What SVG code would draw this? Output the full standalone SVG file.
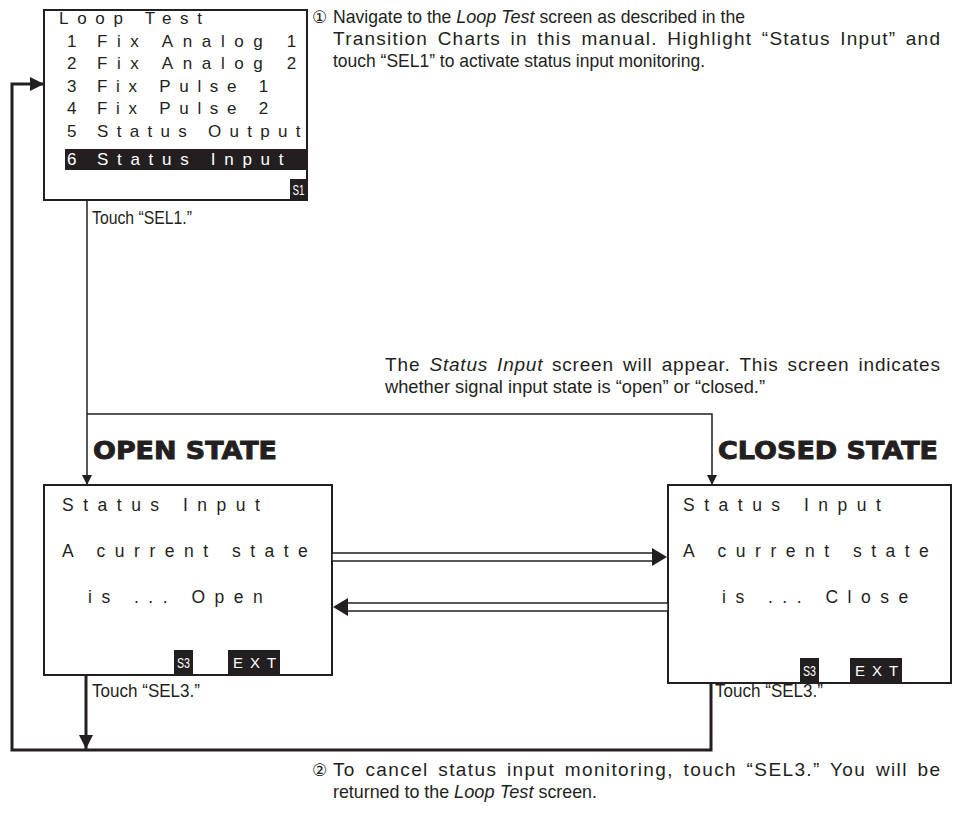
<svg xmlns="http://www.w3.org/2000/svg" width="958" height="816" viewBox="0 0 958 816">
<style>
.box{fill:#fff;stroke:#231f20;stroke-width:2}
.blk{fill:#231f20}
.scr{font-family:"Liberation Sans",Arial,sans-serif;font-size:17px;letter-spacing:8.7px;fill:#231f20}
.scr2{font-family:"Liberation Sans",Arial,sans-serif;font-size:17.5px;letter-spacing:9.5px;fill:#231f20}
.inv{fill:#fff}
.key{font-family:"Liberation Sans",Arial,sans-serif;font-size:15px;fill:#fff}
.prose{font-family:"Liberation Sans",Arial,sans-serif;font-size:19px;fill:#231f20}
.wide{word-spacing:3px}
.it{font-style:italic}
.num{font-family:"DejaVu Sans",sans-serif;font-size:17px;fill:#231f20}
.head{font-family:"DejaVu Sans",sans-serif;font-weight:bold;font-size:24px;fill:#231f20;stroke:#231f20;stroke-width:0.9}
.thin{fill:none;stroke:#231f20;stroke-width:1.5}
.thick{fill:none;stroke:#231f20;stroke-width:3}
.dbl{fill:#fff;stroke:#231f20;stroke-width:1.5}
</style>
<defs>
<marker id="ah" markerUnits="userSpaceOnUse" markerWidth="10" markerHeight="12" refX="10" refY="5" orient="auto"><path d="M0,0 L10,5 L0,10 z" fill="#231f20"/></marker>
<marker id="ahb" markerUnits="userSpaceOnUse" markerWidth="14" markerHeight="14" refX="14" refY="7" orient="auto"><path d="M0,0 L14,7 L0,14 z" fill="#231f20"/></marker>
</defs>

<g id="loop-test">
<rect class="box" x="44" y="10" width="263" height="190"/>
<rect class="blk" x="65" y="149" width="242" height="21"/>
<rect class="blk" x="290" y="179" width="17" height="21"/>
<text class="key" x="298.5" y="195" text-anchor="middle" textLength="12" lengthAdjust="spacingAndGlyphs">S1</text>
<text class="scr" x="59" y="24">Loop Test</text>
<text class="scr" x="67" y="46.5">1</text><text class="scr" x="97" y="46.5" style="letter-spacing:9.6px">Fix Analog 1</text>
<text class="scr" x="67" y="69">2</text><text class="scr" x="97" y="69" style="letter-spacing:9.6px">Fix Analog 2</text>
<text class="scr" x="67" y="91.5">3</text><text class="scr" x="97" y="91.5">Fix Pulse 1</text>
<text class="scr" x="67" y="114">4</text><text class="scr" x="97" y="114">Fix Pulse 2</text>
<text class="scr" x="67" y="136.5">5</text><text class="scr" x="97" y="136.5" style="letter-spacing:8.3px">Status Output</text>
<text class="scr inv" x="67" y="165">6</text><text class="scr inv" x="97" y="165">Status Input</text>
</g>

<g id="note1">
<text class="num" x="312" y="23">①</text>
<text class="prose" x="333" y="23" textLength="118.4" lengthAdjust="spacingAndGlyphs">Navigate to the</text>
<text class="prose it" x="456.3" y="23" textLength="78.3" lengthAdjust="spacingAndGlyphs">Loop Test</text>
<text class="prose" x="539.5" y="23" textLength="205.5" lengthAdjust="spacingAndGlyphs">screen as described in the</text>
<text class="prose wide" x="333" y="45" textLength="607" lengthAdjust="spacing">Transition Charts in this manual. Highlight “Status Input” and</text>
<text class="prose" x="333" y="67" textLength="372" lengthAdjust="spacingAndGlyphs">touch “SEL1” to activate status input monitoring.</text>
</g>

<g id="label-sel1"><text class="prose" x="92" y="224" textLength="100" lengthAdjust="spacingAndGlyphs">Touch “SEL1.”</text></g>

<g id="note-status">
<text class="prose" x="385" y="371" textLength="34.5" lengthAdjust="spacing">The</text>
<text class="prose it wide" x="429.5" y="371" textLength="113" lengthAdjust="spacing">Status Input</text>
<text class="prose wide" x="552" y="371" textLength="388" lengthAdjust="spacing">screen will appear. This screen indicates</text>
<text class="prose" x="385" y="393" textLength="380" lengthAdjust="spacingAndGlyphs">whether signal input state is “open” or “closed.”</text>
</g>

<g id="open-title"><text class="head" x="93" y="459" textLength="184" lengthAdjust="spacingAndGlyphs">OPEN STATE</text></g>
<g id="closed-title"><text class="head" x="718" y="459" textLength="220" lengthAdjust="spacingAndGlyphs">CLOSED STATE</text></g>

<g id="open-screen">
<rect class="box" x="44" y="485" width="288" height="190"/>
<text class="scr2" x="62" y="511">Status Input</text>
<text class="scr2" x="62" y="557">A current state</text>
<text class="scr2" x="88" y="603">is ... Open</text>
<rect class="blk" x="174" y="650" width="19" height="25"/>
<text class="key" x="183.5" y="668" text-anchor="middle" textLength="13" lengthAdjust="spacingAndGlyphs">S3</text>
<rect class="blk" x="228" y="650" width="52" height="25"/>
<text class="key" x="233" y="668" style="letter-spacing:7px">EXT</text>
</g>

<g id="closed-screen">
<rect class="box" x="668" y="485" width="283" height="198"/>
<text class="scr2" x="683" y="511">Status Input</text>
<text class="scr2" x="683" y="557">A current state</text>
<text class="scr2" x="722" y="603">is ... Close</text>
<rect class="blk" x="800" y="658" width="19" height="25"/>
<text class="key" x="809.5" y="676" text-anchor="middle" textLength="13" lengthAdjust="spacingAndGlyphs">S3</text>
<rect class="blk" x="850" y="658" width="52" height="25"/>
<text class="key" x="855" y="676" style="letter-spacing:7px">EXT</text>
</g>

<g id="label-sel3-open"><text class="prose" x="92" y="697" textLength="108" lengthAdjust="spacingAndGlyphs">Touch “SEL3.”</text></g>
<g id="label-sel3-closed"><text class="prose" x="715" y="697" textLength="108" lengthAdjust="spacingAndGlyphs">Touch “SEL3.”</text></g>

<g id="note2">
<text class="num" x="312" y="776">②</text>
<text class="prose wide" x="333" y="776" textLength="607" lengthAdjust="spacing">To cancel status input monitoring, touch “SEL3.” You will be</text>
<text class="prose" x="333" y="798" textLength="116.1" lengthAdjust="spacingAndGlyphs">returned to the</text>
<text class="prose it" x="454.1" y="798" textLength="79.4" lengthAdjust="spacingAndGlyphs">Loop Test</text>
<text class="prose" x="538.5" y="798" textLength="58.5" lengthAdjust="spacingAndGlyphs">screen.</text>
</g>

<g id="connectors">
<path class="thin" d="M87,200 V485" marker-end="url(#ah)"/>
<path class="thin" d="M87,414 H712 V485" marker-end="url(#ah)"/>
<rect class="dbl" x="332" y="553" width="321" height="8"/>
<path class="blk" d="M667,557 L652,548 L652,566 z"/>
<rect class="dbl" x="347" y="603" width="321" height="8"/>
<path class="blk" d="M333,607 L348,598 L348,616 z"/>
<path class="thick" d="M86,675 V749" marker-end="url(#ahb)"/>
<path class="thick" d="M711,683 V750 H12 V84 H44" marker-end="url(#ahb)"/>
</g>
</svg>
